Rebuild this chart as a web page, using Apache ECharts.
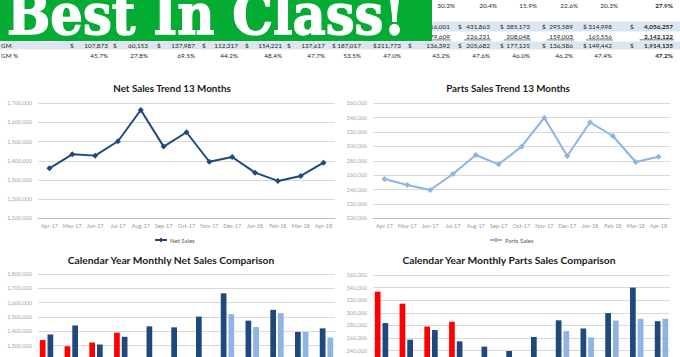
<!DOCTYPE html>
<html><head><meta charset="utf-8">
<script src="https://cdn.jsdelivr.net/npm/echarts@6/dist/echarts.min.js"></script>
<style>html,body{margin:0;padding:0;background:#fff;overflow:hidden;width:680px;height:357px}#c{width:680px;height:430px}</style>
</head><body><div id="c"></div>
<script>
// ---- data ----
const bannerText = 'Best In Class!';
const trendMonths = ['Apr-17','May-17','Jun-17','Jul-17','Aug-17','Sep-17','Oct-17','Nov-17','Dec-17','Jan-18','Feb-18','Mar-18','Apr-18'];
const netSalesTrend = [1361000,1434000,1427000,1502000,1665000,1474000,1549000,1395000,1420000,1338000,1295000,1321000,1390000];
const partsSalesTrend = [254700,246300,239400,261600,288100,275100,299600,340000,286700,333600,314500,278300,285700];
const calMonths = ['Jan','Feb','Mar','Apr','May','Jun','Jul','Aug','Sep','Oct','Nov','Dec'];
const netSales2018 = [1338000,1295000,1321000,1390000,null,null,null,null,null,null,null,null];
const netSales2017 = [1377000,1440000,1307000,1361000,1434000,1427000,1502000,1665000,1474000,1549000,1395000,1420000];
const netSales2016 = [null,null,null,null,null,null,null,1519000,1430000,1526000,1395000,1356000];
const partsSales2018 = [333600,314500,278300,285700,null,null,null,null,null,null,null,null];
const partsSales2017 = [283700,257300,272600,254700,246300,239400,261600,288100,275100,299600,340000,286700];
const partsSales2016 = [null,null,null,null,null,null,null,271000,260900,287800,290500,290500];
// table fragment
const pctRow = ['30.3%','20.4%','15.9%','22.6%','20.3%','27.9%'];
const salesRow = ['316,001','431,863','385,173','295,589','314,998','4,056,257'];
const costRow = ['179,609','226,231','208,048','159,003','165,556','2,142,122'];
const gmRow = ['107,873','60,153','137,987','112,317','154,221','137,617','187,017','211,773','136,392','205,682','177,125','136,586','149,442','1,914,135'];
const gmPctRow = ['45.7%','27.8%','69.5%','44.2%','48.4%','47.7%','53.5%','47.0%','43.2%','47.6%','46.0%','46.2%','47.4%','47.2%'];
const rowLabels = ['GM','GM %'];

// ---- layout / style ----
const NAVY = '#1F497D', LIGHT = '#8DB4E2', RED = '#FF0000';
const FONT = 'Lato, "Open Sans", sans-serif';
const gmRight = [108,148,195,238,282,325,361,401,450,490,530,573,612,673];
const gmDollar = [70,113,157,202,245,287,332,373,408,458,500,542,583,630];
const pctRight = [455,497,537,578,618,673];
const rightCols = [450,490,530,573,612,673];
const rightDollar = [null,458,500,542,583,630];
const TS = 6.4;

const g = [];
function txt(x, y, s, align, bold) {
  g.push({type:'text', x:x, y:y, z:10, style:{text:s, fill:'#262626', font:(bold?'bold ':'')+TS+'px '+FONT,
    textAlign:align||'right', align:align||'right', textVerticalAlign:'middle', verticalAlign:'middle'}});
}
// bands
g.push({type:'rect', shape:{x:0,y:21.5,width:680,height:10}, style:{fill:'#DCE6F1'}, z:5});
g.push({type:'rect', shape:{x:0,y:41.5,width:680,height:8}, style:{fill:'#DCE6F1'}, z:5});
pctRow.forEach((s,i)=>txt(pctRight[i],5,s,'right',i===pctRow.length-1));
salesRow.forEach((s,i)=>{txt(rightCols[i],26.5,s,'right',i===salesRow.length-1); if(rightDollar[i]) txt(rightDollar[i],26.5,'$','left');});
costRow.forEach((s,i)=>{txt(rightCols[i],36,s,'right',i===costRow.length-1);
  const w = s.length*3.6;
  g.push({type:'rect', shape:{x:rightCols[i]-w-1,y:39.6,width:w+2,height:0.7}, style:{fill:'#444'}, z:6});});
txt(1,45.5,rowLabels[0],'left');
txt(1,55,rowLabels[1],'left');
gmRow.forEach((s,i)=>{txt(gmRight[i],45.5,s,'right',i===gmRow.length-1); txt(gmDollar[i],45.5,'$','left');});
gmPctRow.forEach((s,i)=>txt(gmRight[i],55,s,'right',i===gmPctRow.length-1));
// banner
g.push({type:'rect', shape:{x:0,y:0,width:432,height:41}, style:{fill:'#04AC33'}, z:50});
g.push({type:'text', x:7, y:15, scaleX:0.915, scaleY:1, z:51, style:{text:bannerText, fill:'#fff', stroke:'#fff', lineWidth:1.4,
  font:'bold 56px "DejaVu Serif", serif',
  textAlign:'left', align:'left', textVerticalAlign:'middle', verticalAlign:'middle'}});

const fmt = v => v.toLocaleString('en-US');
function yAx(gi, min, max, interval) {
  return {type:'value', gridIndex:gi, min:min, max:max, interval:interval,
    axisLine:{show:false}, axisTick:{show:false},
    axisLabel:{fontSize:5.5, color:'#a6a6a6', margin:6, fontFamily:FONT, formatter:fmt},
    splitLine:{lineStyle:{color:'#D9D9D9', width:1}}};
}
function xAx(gi, data, showLabels) {
  return {type:'category', gridIndex:gi, data:data, boundaryGap:true,
    axisLine:{lineStyle:{color:'#BFBFBF'}}, axisTick:{show:false},
    axisLabel:{show:showLabels, fontSize:5.5, color:'#999', margin:4.6, fontFamily:FONT, interval:0}};
}
function ttl(text, x, y, fs) {
  return {text:text, left:x, top:y-6, textAlign:'center', padding:0,
    textStyle:{fontSize:fs||9.8, fontWeight:'bold', color:'#1a1a1a', fontFamily:FONT}};
}
function bar(name, gi, data, color) {
  return {type:'bar', name:name, xAxisIndex:gi, yAxisIndex:gi, data:data, barWidth:5.7, barGap:'35%',
    itemStyle:{color:color}};
}
function grid(l, t, h) {
  return {left:l, width:297, top:t, height:h, containLabel:false, outerBoundsMode:'none'};
}

const option = {
  animation:false,
  title:[ttl('Net Sales Trend 13 Months',172,89), ttl('Parts Sales Trend 13 Months',508,89),
         ttl('Calendar Year Monthly Net Sales Comparison',171,261,10.3), ttl('Calendar Year Monthly Parts Sales Comparison',509,261,10.3)],
  legend:[
    {data:['Net Sales'], left:154, top:237, padding:0, itemWidth:12, itemHeight:6, itemGap:3,
     textStyle:{fontSize:6, color:'#555', fontFamily:FONT, padding:[0,0,0,-2]}},
    {data:['Parts Sales'], left:489, top:237, padding:0, itemWidth:12, itemHeight:6, itemGap:3,
     textStyle:{fontSize:6, color:'#555', fontFamily:FONT, padding:[0,0,0,-2]}}
  ],
  grid:[grid(38,103.3,115), grid(373,103.3,115), grid(38,274,114.4), grid(373,275,100.8)],
  xAxis:[xAx(0,trendMonths,true), xAx(1,trendMonths,true), xAx(2,calMonths,false), xAx(3,calMonths,false)],
  yAxis:[yAx(0,1100000,1700000,100000), yAx(1,200000,360000,20000), yAx(2,1000000,1800000,100000), yAx(3,200000,360000,20000)],
  graphic:{elements:g},
  series:[
    {type:'line', name:'Net Sales', xAxisIndex:0, yAxisIndex:0, data:netSalesTrend, symbol:'diamond', symbolSize:6,
     lineStyle:{color:NAVY, width:2}, itemStyle:{color:NAVY}},
    {type:'line', name:'Parts Sales', xAxisIndex:1, yAxisIndex:1, data:partsSalesTrend, symbol:'diamond', symbolSize:6,
     lineStyle:{color:LIGHT, width:2}, itemStyle:{color:LIGHT}},
    bar('2018 Net Sales',2,netSales2018,RED), bar('2017 Net Sales',2,netSales2017,NAVY), bar('2016 Net Sales',2,netSales2016,LIGHT),
    bar('2018 Parts Sales',3,partsSales2018,RED), bar('2017 Parts Sales',3,partsSales2017,NAVY), bar('2016 Parts Sales',3,partsSales2016,LIGHT)
  ]
};
const chart = echarts.init(document.getElementById('c'), null, {renderer:'svg'});
chart.setOption(option);
</script></body></html>
